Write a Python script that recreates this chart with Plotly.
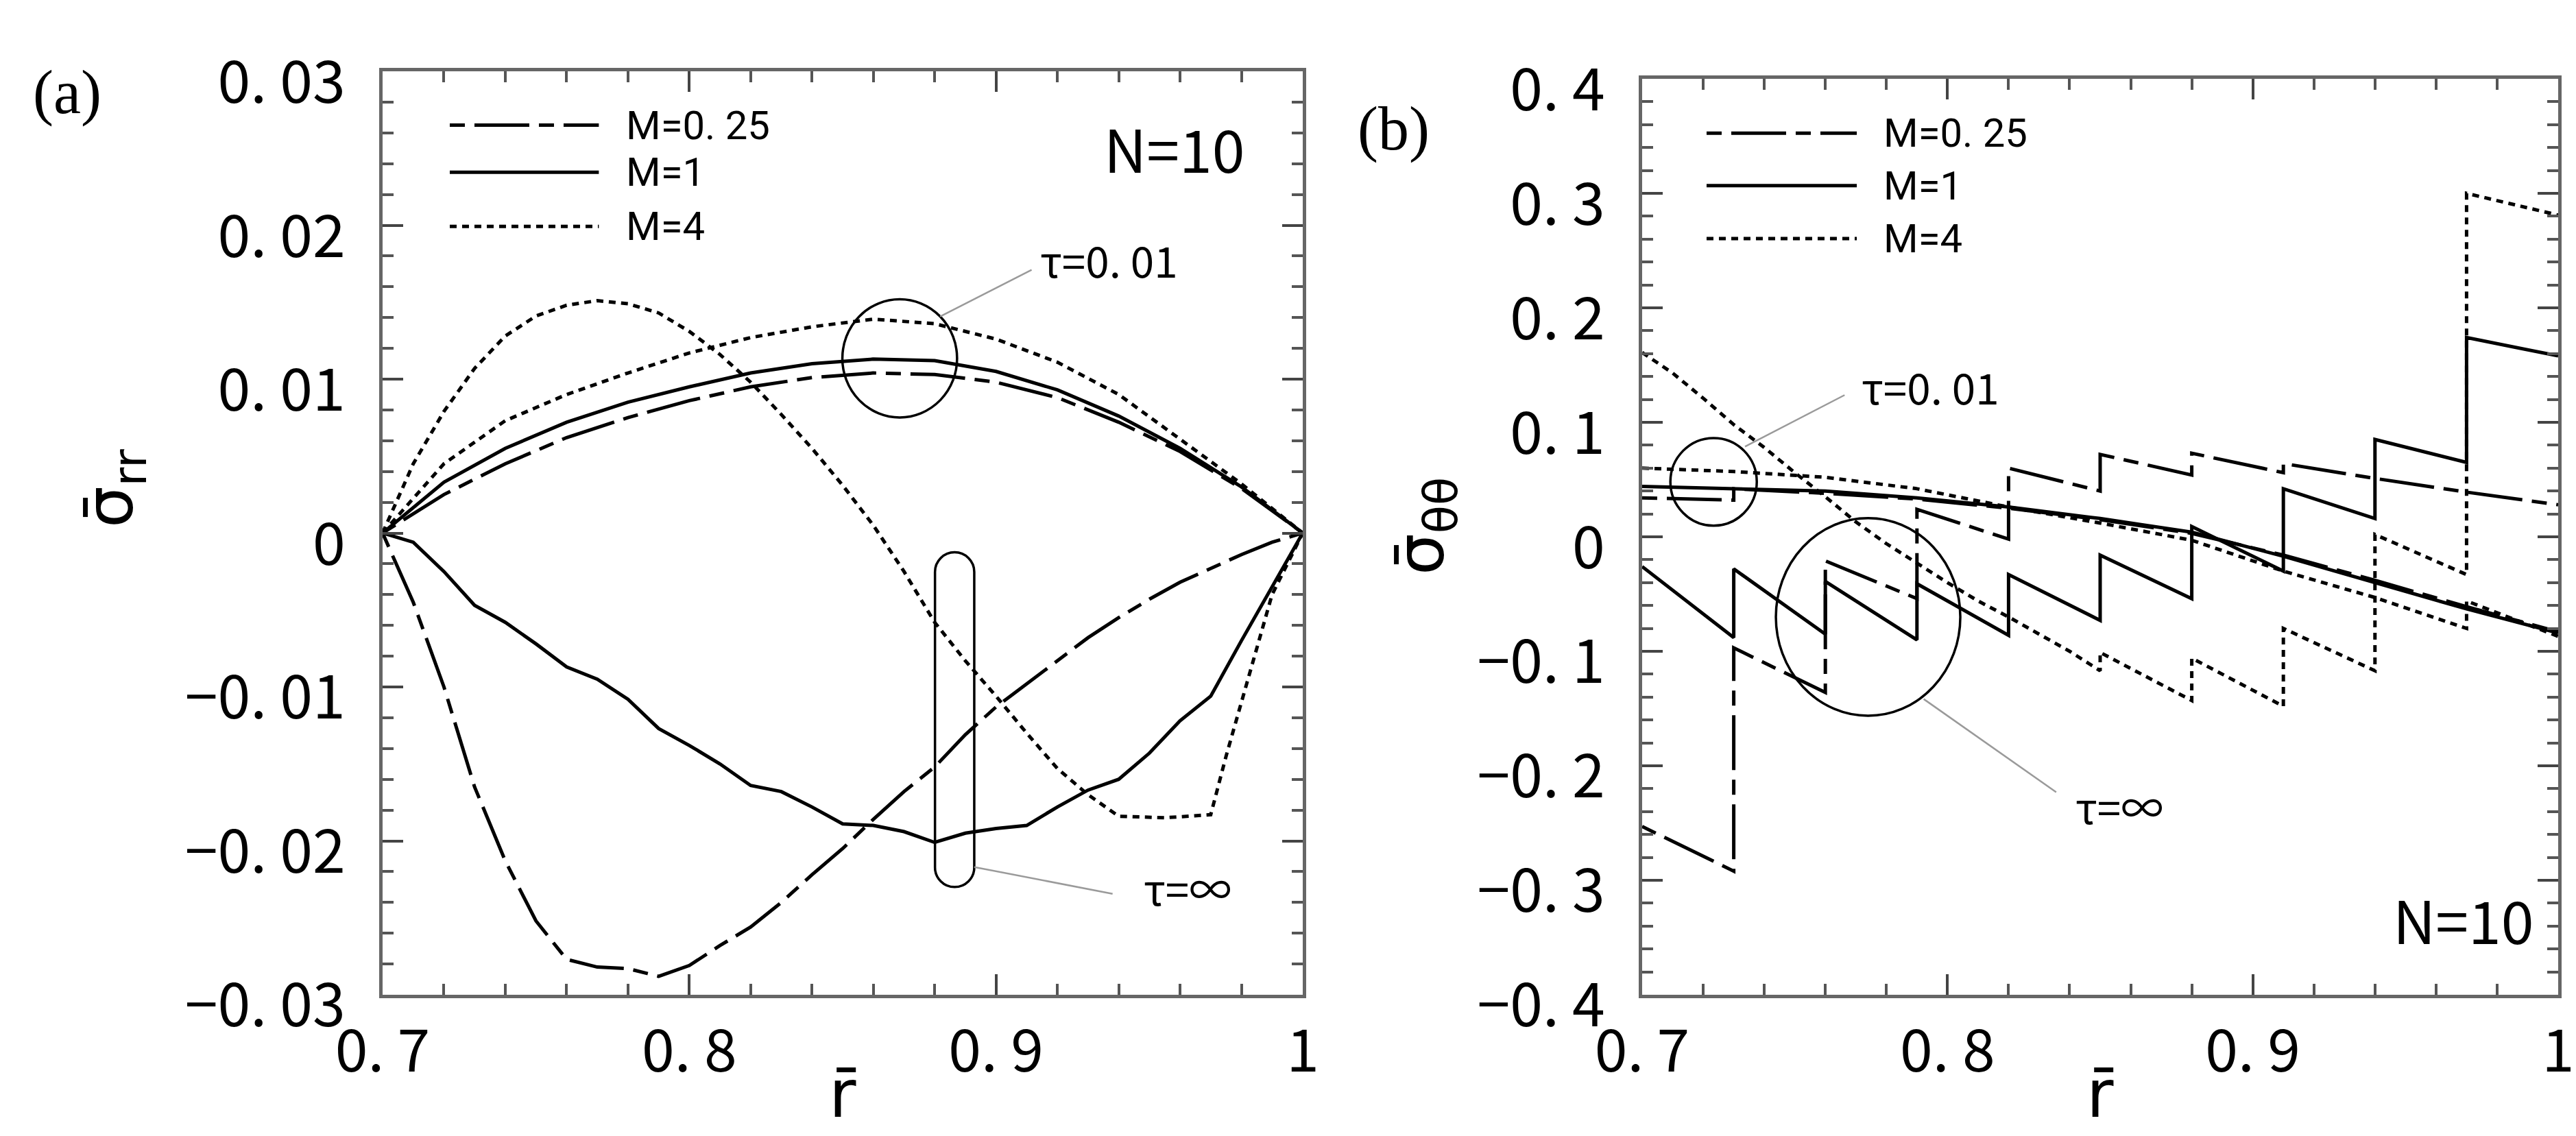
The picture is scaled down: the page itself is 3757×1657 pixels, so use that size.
import plotly.graph_objects as go

# ---------------- data : panel (a) radial stress ----------------
R_A_T001 = [0.70, 0.72, 0.74, 0.76, 0.78, 0.80, 0.82, 0.84, 0.86, 0.88, 0.90, 0.92, 0.94, 0.96, 0.98, 1.00]
SRR_M025_T001 = [0.0, 0.0025, 0.0045, 0.0062, 0.0075, 0.0086, 0.0095, 0.0101, 0.0104, 0.0103, 0.0098, 0.0088, 0.0072, 0.0053, 0.0029, 0.0]
SRR_M1_T001 = [0.0, 0.0033, 0.0055, 0.0072, 0.0085, 0.0095, 0.0104, 0.0110, 0.0113, 0.0112, 0.0105, 0.0093, 0.0076, 0.0055, 0.0030, 0.0]
SRR_M4_T001 = [0.0, 0.0045, 0.0073, 0.0090, 0.0104, 0.0117, 0.0127, 0.0134, 0.0139, 0.0136, 0.0126, 0.0111, 0.0090, 0.0061, 0.0032, 0.0]

R_A_TINF = [0.70, 0.71, 0.72, 0.73, 0.74, 0.75, 0.76, 0.77, 0.78, 0.79, 0.80, 0.81, 0.82, 0.83, 0.84, 0.85,
            0.86, 0.87, 0.88, 0.89, 0.90, 0.91, 0.92, 0.93, 0.94, 0.95, 0.96, 0.97, 0.98, 0.99, 1.00]
SRR_M025_TINF = [0.0, -0.0045, -0.0100, -0.0165, -0.0213, -0.0252, -0.0277, -0.0282, -0.0283, -0.0288, -0.0281,
                 -0.0268, -0.0256, -0.0240, -0.0222, -0.0205, -0.0186, -0.0168, -0.0152, -0.0131, -0.0113, -0.0098,
                 -0.0083, -0.0068, -0.0055, -0.0043, -0.0032, -0.0023, -0.0014, -0.0006, 0.0]
SRR_M1_TINF = [0.0, -0.0006, -0.0025, -0.0047, -0.0058, -0.0072, -0.0087, -0.0095, -0.0108, -0.0127, -0.0138,
               -0.0150, -0.0164, -0.0168, -0.0178, -0.0189, -0.0190, -0.0194, -0.0201, -0.0195, -0.0192, -0.0190,
               -0.0178, -0.0167, -0.0160, -0.0143, -0.0122, -0.0106, -0.0070, -0.0035, 0.0]
R_A_M4_TINF = [0.70, 0.71, 0.72, 0.73, 0.74, 0.75, 0.76, 0.77, 0.78, 0.79, 0.80, 0.81, 0.82, 0.83, 0.84, 0.85,
               0.86, 0.87, 0.88, 0.89, 0.90, 0.91, 0.92, 0.93, 0.94, 0.955, 0.97, 0.975, 0.98, 0.985, 0.99, 1.00]
SRR_M4_TINF = [0.0, 0.0045, 0.0079, 0.0107, 0.0128, 0.0141, 0.0148, 0.0151, 0.0149, 0.0143, 0.0131, 0.0116,
               0.0098, 0.0077, 0.0055, 0.0031, 0.0005, -0.0025, -0.0058, -0.0083, -0.0106, -0.0130, -0.0153,
               -0.0170, -0.0184, -0.0185, -0.0183, -0.0145, -0.0110, -0.0075, -0.0040, 0.0]

# ---------------- data : panel (b) hoop stress ----------------
LAYER_EDGES = [0.70, 0.73, 0.76, 0.79, 0.82, 0.85, 0.88, 0.91, 0.94, 0.97, 1.00]
STT_M1_TINF_START = [-0.026, -0.028, -0.039, -0.041, -0.033, -0.016, 0.009, 0.042, 0.085, 0.174]
STT_M1_TINF_END = [-0.088, -0.085, -0.090, -0.086, -0.073, -0.054, -0.030, 0.016, 0.065, 0.158]
STT_M025_TINF_START = [-0.253, -0.097, -0.021, 0.024, 0.060, 0.072, 0.073, 0.064, 0.051, 0.039]
STT_M025_TINF_END = [-0.292, -0.136, -0.054, -0.002, 0.040, 0.054, 0.056, 0.051, 0.039, 0.028]
R_B_M4_TINF = [0.70, 0.71, 0.72, 0.73, 0.74, 0.75, 0.76, 0.77, 0.78, 0.79, 0.80, 0.81, 0.82, 0.83, 0.84, 0.85,
               0.85, 0.88, 0.88, 0.91, 0.91, 0.94, 0.94, 0.97, 0.97, 1.00]
STT_M4_TINF = [0.161, 0.143, 0.121, 0.098, 0.078, 0.056, 0.035, 0.013, -0.006, -0.023, -0.040, -0.056, -0.070,
               -0.085, -0.100, -0.117, -0.101, -0.143, -0.106, -0.148, -0.080, -0.117, 0.002, -0.033, 0.300, 0.281]

STT_M1_T001 = [0.044, 0.042, 0.040, 0.034, 0.026, 0.016, 0.004, -0.017, -0.040, -0.063, -0.084]
R_B_M025_T001 = [0.70, 0.73, 0.73, 0.76, 0.79, 0.82, 0.85, 0.88, 0.91, 0.94, 0.97, 1.00]
STT_M025_T001 = [0.034, 0.032, 0.042, 0.038, 0.033, 0.025, 0.015, 0.003, -0.016, -0.038, -0.061, -0.083]
R_B_M4_T001 = [0.70, 0.73, 0.76, 0.79, 0.82, 0.85, 0.88, 0.91, 0.94, 0.97, 0.97, 1.00]
STT_M4_T001 = [0.060, 0.057, 0.052, 0.042, 0.026, 0.012, -0.003, -0.030, -0.053, -0.080, -0.056, -0.087]

# ---------------- ticks / labels ----------------
X_TICKS = [0.7, 0.8, 0.9, 1.0]
X_TICKTEXT = ["0. 7", "0. 8", "0. 9", "1"]
YA_TICKS = [-0.03, -0.02, -0.01, 0.0, 0.01, 0.02, 0.03]
YA_TICKTEXT = ["\u22120. 03", "\u22120. 02", "\u22120. 01", "0", "0. 01", "0. 02", "0. 03"]
YB_TICKS = [-0.4, -0.3, -0.2, -0.1, 0.0, 0.1, 0.2, 0.3, 0.4]
YB_TICKTEXT = ["\u22120. 4", "\u22120. 3", "\u22120. 2", "\u22120. 1", "0", "0. 1", "0. 2", "0. 3", "0. 4"]
LEGEND_LABELS = ["M=0. 25", "M=1", "M=4"]
LEGEND_STYLES = ["dash", "solid", "dot"]

# ---------------- styling ----------------
W, H = 3757, 1657
GOTHIC = "Noto Sans CJK JP, DejaVu Sans, sans-serif"
LEG_FONT = "Roboto, Liberation Sans, sans-serif"
SERIF = "Liberation Serif, Times New Roman, serif"
DASH = {"dash": "22px,14px,80px,14px", "solid": "solid", "dot": "10px,8px"}
LW = 5
AXIS_COLOR = "#666666"

fig = go.Figure()


def add_line(x, y, style, xa, ya):
    fig.add_trace(go.Scatter(x=x, y=y, mode="lines", xaxis=xa, yaxis=ya, showlegend=False,
                             hoverinfo="skip", line=dict(color="black", width=LW, dash=DASH[style])))


def stepped(edges, starts, ends):
    xs, ys = [], []
    for i in range(len(starts)):
        xs += [edges[i], edges[i + 1]]
        ys += [starts[i], ends[i]]
    return xs, ys


# panel (a)
add_line(R_A_T001, SRR_M025_T001, "dash", "x", "y")
add_line(R_A_T001, SRR_M1_T001, "solid", "x", "y")
add_line(R_A_T001, SRR_M4_T001, "dot", "x", "y")
add_line(R_A_TINF, SRR_M025_TINF, "dash", "x", "y")
add_line(R_A_TINF, SRR_M1_TINF, "solid", "x", "y")
add_line(R_A_M4_TINF, SRR_M4_TINF, "dot", "x", "y")

# panel (b)
add_line(*stepped(LAYER_EDGES, STT_M025_TINF_START, STT_M025_TINF_END), "dash", "x2", "y2")
add_line(*stepped(LAYER_EDGES, STT_M1_TINF_START, STT_M1_TINF_END), "solid", "x2", "y2")
add_line(R_B_M4_TINF, STT_M4_TINF, "dot", "x2", "y2")
add_line(R_B_M025_T001, STT_M025_T001, "dash", "x2", "y2")
add_line(LAYER_EDGES, STT_M1_T001, "solid", "x2", "y2")
add_line(R_B_M4_T001, STT_M4_T001, "dot", "x2", "y2")


# ---------------- axes ----------------
def axis(domain, rng, tickvals, ticktext, minor_dtick, minor_tick0, is_y, anchor):
    d = dict(domain=domain, range=rng, anchor=anchor, automargin=False,
             tickmode="array", tickvals=tickvals, ticktext=ticktext,
             showline=True, linecolor=AXIS_COLOR, linewidth=5, mirror="ticks", ticks="inside",
             ticklen=30, tickwidth=4, tickcolor="#444444", showgrid=False, zeroline=False,
             tickfont=dict(family=GOTHIC, size=86, color="black"),
             minor=dict(ticks="inside", ticklen=16, tickwidth=4, tickcolor="#555555",
                        dtick=minor_dtick, tick0=minor_tick0, showgrid=False),
             fixedrange=True)
    if is_y:
        d.update(ticklabelstandoff=32, ticklabelshift=16)
    else:
        d.update(ticklabelstandoff=4)
    return d


XA_DOM = [550 / W, 1892 / W]
XB_DOM = [2387 / W, 3723 / W]
YA_DOM = [1 - 1443 / H, 1 - 96 / H]
YB_DOM = [1 - 1443 / H, 1 - 107 / H]

fig.update_layout(
    width=W, height=H, margin=dict(l=0, r=0, t=0, b=0, pad=0, autoexpand=False), autosize=False,
    paper_bgcolor="white", plot_bgcolor="white", showlegend=False,
    xaxis=axis(XA_DOM, [0.7, 1.0], X_TICKS, X_TICKTEXT, 0.02, 0.7, False, "y"),
    yaxis=axis(YA_DOM, [-0.03, 0.03], YA_TICKS, YA_TICKTEXT, 0.002, 0.0, True, "x"),
    xaxis2=axis(XB_DOM, [0.7, 1.0], X_TICKS, X_TICKTEXT, 0.02, 0.7, False, "y2"),
    yaxis2=axis(YB_DOM, [-0.4, 0.4], YB_TICKS, YB_TICKTEXT, 0.02, 0.0, True, "x2"),
)

# ---------------- annotations / decorations ----------------
shapes = []
annots = []
TXT = dict(family=GOTHIC, size=62, color="black")
LEG = dict(family=LEG_FONT, size=58, color="black")
BIG = dict(family=GOTHIC, size=86, color="black")


def text(x, y, s, xr, yr, font=TXT, xanchor="left", **kw):
    annots.append(dict(x=x, y=y, xref=xr, yref=yr, text=s, showarrow=False, xanchor=xanchor,
                       yanchor="middle", font=font, **kw))


def ellipse(cx, cy, hx, hy, xr, yr):
    shapes.append(dict(type="circle", xref=xr, yref=yr, x0=cx - hx, x1=cx + hx, y0=cy - hy, y1=cy + hy,
                       line=dict(color="black", width=3.5)))


def leader(x0, y0, x1, y1, xr, yr):
    shapes.append(dict(type="line", xref=xr, yref=yr, x0=x0, y0=y0, x1=x1, y1=y1,
                       line=dict(color="#9a9a9a", width=2.5)))


def legend(xl0, xl1, rows, xt, xr, yr):
    for yv, lab, st in zip(rows, LEGEND_LABELS, LEGEND_STYLES):
        shapes.append(dict(type="line", xref=xr, yref=yr, x0=xl0, x1=xl1, y0=yv, y1=yv,
                           line=dict(color="black", width=LW, dash=DASH[st])))
        text(xt, yv, lab, xr, yr, font=LEG)


# panel (a)
legend(0.7219, 0.7705, [0.0265, 0.02344, 0.01992], 0.779, "x", "y")
text(0.9348, 0.0251, "N=10", "x", "y", font=BIG)
ellipse(0.8686, 0.01135, 0.0187, 0.00384, "x", "y")
leader(0.8818, 0.01407, 0.9116, 0.0171, "x", "y")
text(0.914, 0.0178, "\u03c4=0. 01", "x", "y")
# capsule-shaped outline around the tau = infinity curves
OV_X0, OV_X1, OV_YB, OV_YT = 0.8801, 0.8929, -0.0230, -0.00125
rx = (OV_X1 - OV_X0) / 2
ry = rx * (1342 / 0.3) / (1347 / 0.06)
cx = (OV_X0 + OV_X1) / 2
k = 0.5523
path = (f"M{OV_X0},{OV_YT - ry} C{OV_X0},{OV_YT - ry + k * ry} {cx - k * rx},{OV_YT} {cx},{OV_YT} "
        f"C{cx + k * rx},{OV_YT} {OV_X1},{OV_YT - ry + k * ry} {OV_X1},{OV_YT - ry} "
        f"L{OV_X1},{OV_YB + ry} C{OV_X1},{OV_YB + ry - k * ry} {cx + k * rx},{OV_YB} {cx},{OV_YB} "
        f"C{cx - k * rx},{OV_YB} {OV_X0},{OV_YB + ry - k * ry} {OV_X0},{OV_YB + ry} Z")
shapes.append(dict(type="path", xref="x", yref="y", path=path, line=dict(color="black", width=3.5)))
leader(0.8929, -0.0217, 0.938, -0.02344, "x", "y")
text(0.9476, -0.0230, "\u03c4=\u221e", "x", "y")

# panel (b)
legend(0.7211, 0.7703, [0.3525, 0.3068, 0.2605], 0.7785, "x2", "y2")
text(0.9455, -0.333, "N=10", "x2", "y2", font=BIG)
ellipse(0.7234, 0.048, 0.01415, 0.0383, "x2", "y2")
leader(0.7337, 0.0788, 0.7663, 0.1238, "x2", "y2")
text(0.7713, 0.132, "\u03c4=0. 01", "x2", "y2")
ellipse(0.774, -0.070, 0.0302, 0.0863, "x2", "y2")
leader(0.7922, -0.1417, 0.8356, -0.223, "x2", "y2")
text(0.8414, -0.2345, "\u03c4=\u221e", "x2", "y2")

# panel labels and axis titles
TITLE_FONT = dict(family="DejaVu Sans, sans-serif", size=96, color="black")
text(90 / W, 1 - 127 / H, "(a)", "paper", "paper", font=dict(family=SERIF, size=90, color="black"), xanchor="center")
text(2024 / W, 1 - 180 / H, "(b)", "paper", "paper", font=dict(family=SERIF, size=90, color="black"), xanchor="center")
text(158 / W, 1 - 705 / H, "\u03c3\u0304<sub>rr</sub>", "paper", "paper", font=TITLE_FONT, xanchor="center", textangle=-90)
text(2070 / W, 1 - 760 / H, "\u03c3\u0304<sub>\u03b8\u03b8</sub>", "paper", "paper", font=TITLE_FONT, xanchor="center", textangle=-90)
text(1221 / W, 1 - 1588 / H, "r\u0304", "paper", "paper", font=TITLE_FONT, xanchor="center")
text(3055 / W, 1 - 1588 / H, "r\u0304", "paper", "paper", font=TITLE_FONT, xanchor="center")

fig.update_layout(shapes=shapes, annotations=annots)
fig.write_html("out.html")
